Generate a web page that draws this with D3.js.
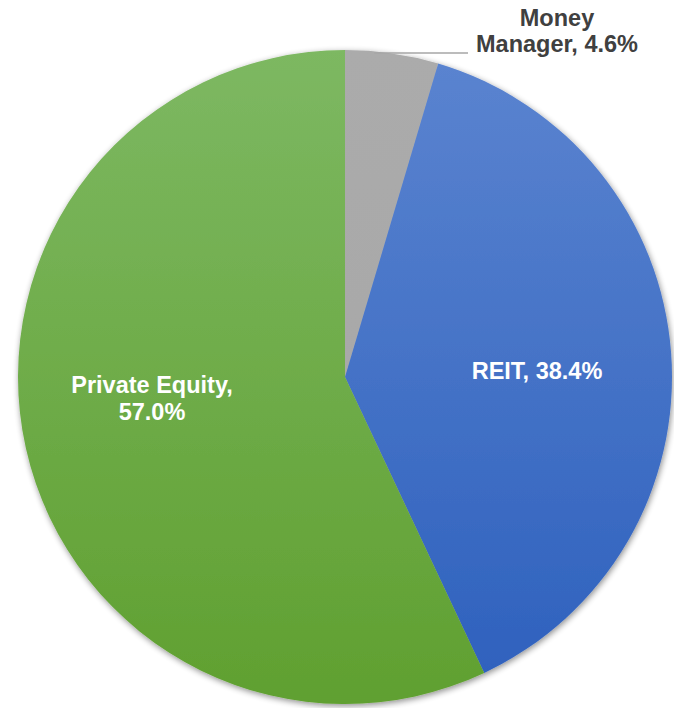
<!DOCTYPE html>
<html>
<head>
<meta charset="utf-8">
<script src="https://cdn.jsdelivr.net/npm/d3@7"></script>
<style>
  body { margin: 0; background: #fff; }
  text { font-family: "Liberation Sans", Arial, sans-serif; font-weight: bold; }
</style>
</head>
<body>
<div id="chart"></div>
<script>
const labels = ['Money Manager', 'REIT', 'Private Equity'];
const values = [4.6, 38.4, 57.0];
const colorTop = ['#ababab', '#5b84d0', '#7db862'];
const colorBottom = ['#a6a6a6', '#2d60bd', '#60a030'];

const width = 674, height = 708;
const cx = 345, cy = 377, radius = 327;

const svg = d3.select('#chart').append('svg')
  .attr('width', width)
  .attr('height', height);

const defs = svg.append('defs');

// soft drop shadow like the office chart
const filter = defs.append('filter')
  .attr('id', 'shadow')
  .attr('x', '-10%').attr('y', '-10%')
  .attr('width', '120%').attr('height', '120%');
filter.append('feGaussianBlur').attr('in', 'SourceAlpha').attr('stdDeviation', 3);
filter.append('feOffset').attr('dx', 1).attr('dy', 2).attr('result', 'blur');
filter.append('feComponentTransfer').append('feFuncA').attr('type', 'linear').attr('slope', 0.45);
const merge = filter.append('feMerge');
merge.append('feMergeNode');
merge.append('feMergeNode').attr('in', 'SourceGraphic');

labels.forEach((l, i) => {
  const grad = defs.append('linearGradient')
    .attr('id', 'grad' + i)
    .attr('gradientUnits', 'userSpaceOnUse')
    .attr('x1', 0).attr('y1', -radius)
    .attr('x2', 0).attr('y2', radius);
  grad.append('stop').attr('offset', '0%').attr('stop-color', colorTop[i]);
  grad.append('stop').attr('offset', '100%').attr('stop-color', colorBottom[i]);
});

const g = svg.append('g').attr('transform', `translate(${cx},${cy})`);

const pie = d3.pie().sort(null).value(d => d);
const arcs = pie(values);
const arc = d3.arc().innerRadius(0).outerRadius(radius);

g.append('g')
  .attr('filter', 'url(#shadow)')
  .selectAll('path')
  .data(arcs)
  .join('path')
  .attr('d', arc)
  .attr('fill', (d, i) => `url(#grad${i})`);

// Money Manager label, outside with leader line
const mm = arcs[0];
const mmAngle = (mm.startAngle + mm.endAngle) / 2;
const lx = Math.sin(mmAngle) * radius * 0.62;
g.append('line')
  .attr('x1', lx).attr('y1', -324)
  .attr('x2', 123).attr('y2', -324)
  .attr('stroke', '#a6a6a6')
  .attr('stroke-width', 1.5);

const mmText = g.append('text')
  .attr('text-anchor', 'middle')
  .attr('font-size', 23.5)
  .attr('fill', '#404040');
mmText.append('tspan').attr('x', 212).attr('y', -351).text('Money');
mmText.append('tspan').attr('x', 212).attr('y', -325).text(`Manager, ${values[0].toFixed(1)}%`);

// REIT label
g.append('text')
  .attr('x', 192).attr('y', 2)
  .attr('text-anchor', 'middle')
  .attr('font-size', 23.5)
  .attr('fill', '#fff')
  .text(`${labels[1]}, ${values[1].toFixed(1)}%`);

// Private Equity label
const peText = g.append('text')
  .attr('text-anchor', 'middle')
  .attr('font-size', 23.5)
  .attr('fill', '#fff');
peText.append('tspan').attr('x', -193).attr('y', 16).text(`${labels[2]},`);
peText.append('tspan').attr('x', -193).attr('y', 43).text(`${values[2].toFixed(1)}%`);
</script>
</body>
</html>
